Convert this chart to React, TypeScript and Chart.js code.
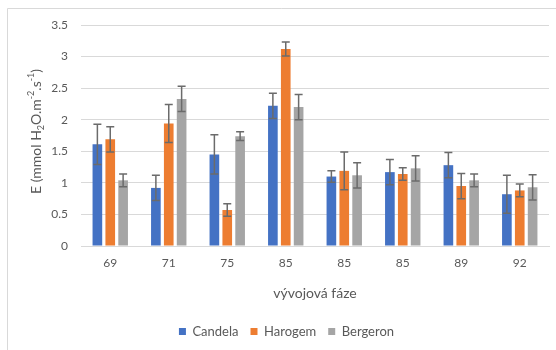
import React, { useEffect, useRef } from "react";
import { Chart, registerables } from "chart.js";

Chart.register(...registerables);

const categories = ["69", "71", "75", "85", "85", "85", "89", "92"];
const seriesNames = ["Candela", "Harogem", "Bergeron"];
const candela = [1.61, 0.92, 1.45, 2.22, 1.1, 1.17, 1.28, 0.82];
const harogem = [1.69, 1.94, 0.57, 3.12, 1.19, 1.14, 0.95, 0.88];
const bergeron = [1.04, 2.33, 1.74, 2.2, 1.12, 1.23, 1.04, 0.93];
const candelaErr = [0.32, 0.2, 0.31, 0.2, 0.09, 0.2, 0.2, 0.3];
const harogemErr = [0.2, 0.3, 0.1, 0.11, 0.3, 0.1, 0.2, 0.1];
const bergeronErr = [0.1, 0.2, 0.07, 0.2, 0.2, 0.2, 0.1, 0.2];
const yTicks = [0, 0.5, 1, 1.5, 2, 2.5, 3, 3.5];
const xTitle = "vývojová fáze";
const yTitleParts = [
  { t: "E (mmol H", k: "n" },
  { t: "2", k: "sub" },
  { t: "O.m", k: "n" },
  { t: "-2", k: "sup" },
  { t: ".s", k: "n" },
  { t: "-1", k: "sup" },
  { t: ")", k: "n" },
];

const colors = ["#4472C4", "#ED7D31", "#A5A5A5"];
const FONT = "Lato, 'Open Sans', sans-serif";
const TEXT = "#595959";
const PAD_BOTTOM = 2;

const errorBarPlugin = {
  id: "errorBars",
  afterDatasetsDraw(chart: any) {
    const ctx = chart.ctx;
    const yScale = chart.scales.y;
    ctx.save();
    ctx.strokeStyle = "#6b6b6b";
    ctx.lineWidth = 1.5;
    chart.data.datasets.forEach((ds: any, i: number) => {
      const meta = chart.getDatasetMeta(i);
      meta.data.forEach((bar: any, j: number) => {
        const v = ds.data[j];
        const e = ds.errors[j];
        const yTop = yScale.getPixelForValue(v + e);
        const yBot = yScale.getPixelForValue(v - e);
        const x = bar.x;
        const cap = 4;
        ctx.beginPath();
        ctx.moveTo(x, yTop);
        ctx.lineTo(x, yBot);
        ctx.moveTo(x - cap, yTop);
        ctx.lineTo(x + cap, yTop);
        ctx.moveTo(x - cap, yBot);
        ctx.lineTo(x + cap, yBot);
        ctx.stroke();
      });
    });
    ctx.restore();
  },
};

const framePlugin = {
  id: "frame",
  beforeDraw(chart: any) {
    const ctx = chart.ctx;
    ctx.save();
    ctx.fillStyle = "#ffffff";
    ctx.fillRect(0, 0, chart.width, chart.height);
    ctx.strokeStyle = "#d9d9d9";
    ctx.lineWidth = 1;
    ctx.beginPath();
    ctx.moveTo(7.5, chart.height);
    ctx.lineTo(7.5, 8.5);
    ctx.lineTo(chart.width, 8.5);
    ctx.stroke();
    ctx.restore();
  },
};

const titlesPlugin = {
  id: "axisTitles",
  afterDraw(chart: any) {
    const ctx = chart.ctx;
    const area = chart.chartArea;
    ctx.save();
    ctx.fillStyle = TEXT;
    // x title
    ctx.font = `14px ${FONT}`;
    ctx.textAlign = "center";
    ctx.textBaseline = "middle";
    ctx.fillText(xTitle, (area.left + area.right) / 2, area.bottom + 47);
    // y title, rotated with sub/superscripts
    const mainFont = `14px ${FONT}`;
    const smallFont = `9px ${FONT}`;
    let total = 0;
    const widths = yTitleParts.map((p) => {
      ctx.font = p.k === "n" ? mainFont : smallFont;
      const w = ctx.measureText(p.t).width;
      total += w;
      return w;
    });
    ctx.translate(36, (area.top + area.bottom) / 2 - 4);
    ctx.rotate(-Math.PI / 2);
    ctx.textAlign = "left";
    ctx.textBaseline = "alphabetic";
    let x = -total / 2;
    yTitleParts.forEach((p, i) => {
      ctx.font = p.k === "n" ? mainFont : smallFont;
      const dy = p.k === "n" ? 5 : p.k === "sub" ? 8 : -2;
      ctx.fillText(p.t, x, dy);
      x += widths[i];
    });
    ctx.restore();
  },
};

export default function App() {
  const ref = useRef<HTMLCanvasElement>(null);
  useEffect(() => {
    if (!ref.current) return;
    const values = [candela, harogem, bergeron];
    const errs = [candelaErr, harogemErr, bergeronErr];
    const chart = new Chart(ref.current, {
      type: "bar",
      data: {
        labels: categories,
        datasets: seriesNames.map((name, i) => ({
          label: name,
          data: values[i],
          errors: errs[i],
          backgroundColor: colors[i],
          borderWidth: 0,
          categoryPercentage: 0.66,
          barPercentage: 0.75,
        })) as any,
      },
      options: {
        animation: false,
        responsive: false,
        maintainAspectRatio: false,
        layout: { padding: { left: 24, right: 7, top: 25, bottom: PAD_BOTTOM } },
        plugins: {
          legend: {
            position: "bottom",
            labels: {
              boxWidth: 7,
              boxHeight: 7,
              padding: 12,
              color: TEXT,
              font: { family: FONT, size: 13 },
            },
          },
          tooltip: { enabled: false },
        },
        scales: {
          x: {
            afterFit(scale: any) {
              const lg = scale.chart.legend;
              const lh = lg && lg.height ? lg.height : 36;
              scale.height = scale.chart.height - PAD_BOTTOM - lh - 246;
            },
            grid: { display: false, drawTicks: false },
            border: { display: true, color: "#d9d9d9", width: 1 },
            ticks: { color: TEXT, padding: 10, font: { family: FONT, size: 12 } },
          },
          y: {
            min: 0,
            max: 3.5,
            afterBuildTicks(scale: any) {
              scale.ticks = yTicks.map((v) => ({ value: v }));
            },
            afterFit(scale: any) {
              scale.width = 57;
            },
            grid: { color: "#d9d9d9", drawTicks: false, lineWidth: 1 },
            border: { display: false },
            ticks: {
              color: TEXT,
              padding: 13,
              font: { family: FONT, size: 12 },
              callback: (v: any) => String(v),
            },
          },
        },
      },
      plugins: [errorBarPlugin, framePlugin, titlesPlugin],
    } as any);
    return () => chart.destroy();
  }, []);
  return (
    <div style={{ position: "fixed", left: 0, top: 0, width: 556, height: 350, background: "#fff" }}>
      <canvas ref={ref} width={556} height={350} style={{ width: 556, height: 350, display: "block" }} />
    </div>
  );
}
